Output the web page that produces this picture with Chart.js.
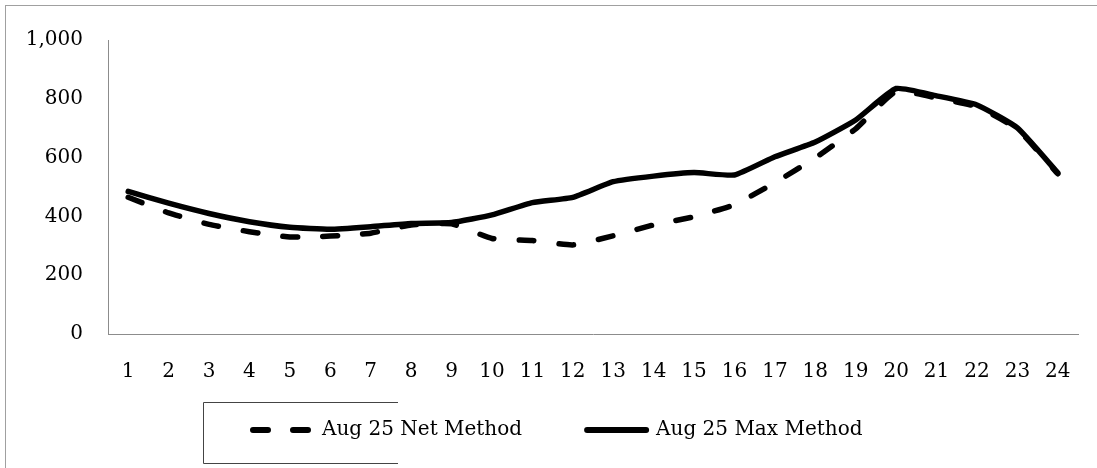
<!DOCTYPE html>
<html>
<head>
<meta charset="utf-8">
<script src="https://cdn.jsdelivr.net/npm/chart.js@4/dist/chart.umd.min.js"></script>
<style>
  html, body { margin: 0; padding: 0; background: #fff; }
  #wrap { position: relative; width: 1097px; height: 468px; overflow: hidden; }
  #frame {
    position: absolute; left: 5px; top: 5px; width: 1200px; height: 600px;
    border-left: 1px solid #a0a0a0; border-top: 1px solid #a0a0a0;
    pointer-events: none;
  }
</style>
</head>
<body>
<div id="wrap">
  <canvas id="chart" width="1097" height="468"></canvas>
  <div id="frame"></div>
</div>
<script>
// hours of the day
const hours = ['1', '2', '3', '4', '5', '6', '7', '8', '9', '10', '11', '12',
               '13', '14', '15', '16', '17', '18', '19', '20', '21', '22', '23', '24'];

const netMethod = [465, 412, 373, 348, 330, 333, 343, 371, 375, 325, 318, 303,
                   334, 371, 399, 440, 515, 599, 698, 825, 803, 773, 697, 545];
const maxMethod = [485, 445, 410, 382, 363, 356, 365, 376, 379, 405, 447, 465,
                   518, 537, 549, 541, 603, 653, 728, 835, 810, 779, 701, 548];

const seriesNames = ['Aug 25 Net Method', 'Aug 25 Max Method'];

const FONT = { family: '"DejaVu Serif", serif', size: 20 };

// legend drawn by hand so the spacing can match the original
const boxLegend = {
  id: 'boxLegend',
  afterDraw(chart) {
    const ctx = chart.ctx;
    const y = 430;
    let x = 250;
    ctx.save();

    // partial frame round the legend
    ctx.strokeStyle = '#444';
    ctx.lineWidth = 1;
    ctx.beginPath();
    ctx.moveTo(398, 402.5);
    ctx.lineTo(203.5, 402.5);
    ctx.lineTo(203.5, 463.5);
    ctx.lineTo(398, 463.5);
    ctx.stroke();

    ctx.font = `${FONT.size}px ${FONT.family}`;
    ctx.textBaseline = 'middle';
    ctx.fillStyle = '#000';
    chart.data.datasets.forEach(ds => {
      ctx.strokeStyle = ds.borderColor;
      ctx.lineWidth = 6;
      ctx.lineCap = 'round';
      ctx.setLineDash(ds.borderDash || []);
      ctx.beginPath();
      ctx.moveTo(x + 3, y);
      ctx.lineTo(x + 62, y);
      ctx.stroke();
      ctx.setLineDash([]);
      x += 72;
      ctx.fillText(ds.label, x, y);
      x += ctx.measureText(ds.label).width + 62;
    });
    ctx.restore();
  }
};

new Chart(document.getElementById('chart'), {
  type: 'line',
  data: {
    labels: hours,
    datasets: [
      {
        label: seriesNames[0],
        data: netMethod,
        borderColor: '#000',
        borderWidth: 5.5,
        borderDash: [15, 25],
        borderCapStyle: 'round',
        pointRadius: 0,
        tension: 0.15
      },
      {
        label: seriesNames[1],
        data: maxMethod,
        borderColor: '#000',
        borderWidth: 5.5,
        borderCapStyle: 'round',
        pointRadius: 0,
        tension: 0.15
      }
    ]
  },
  options: {
    responsive: false,
    animation: false,
    devicePixelRatio: 1,
    layout: { padding: { top: 40, right: 19, left: 0, bottom: 0 } },
    plugins: {
      legend: { display: false },
      tooltip: { enabled: false }
    },
    scales: {
      x: {
        offset: true,
        grid: { display: false, drawTicks: false },
        border: { display: true, color: '#8c8c8c', width: 1 },
        ticks: { font: FONT, color: '#000', padding: 26, maxRotation: 0, autoSkip: false },
        afterFit(scale) { scale.height = 134; }
      },
      y: {
        min: 0,
        max: 1000,
        grid: { display: false, drawTicks: false },
        border: { display: true, color: '#8c8c8c', width: 1 },
        ticks: {
          stepSize: 200,
          font: FONT,
          color: '#000',
          padding: 25,
          callback: v => v.toLocaleString('en-US')
        },
        afterFit(scale) { scale.width = 108; }
      }
    }
  },
  plugins: [boxLegend]
});
</script>
</body>
</html>
